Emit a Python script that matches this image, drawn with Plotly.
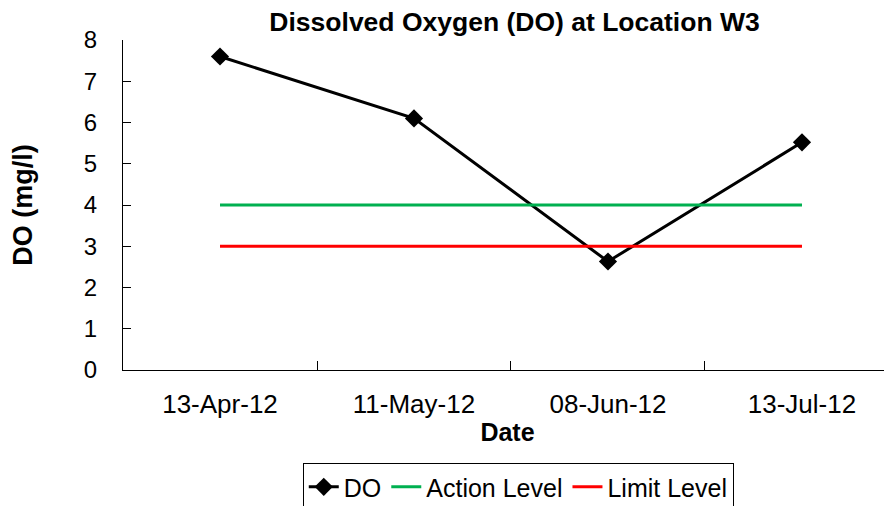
import plotly.graph_objects as go

dates = ["13-Apr-12", "11-May-12", "08-Jun-12", "13-Jul-12"]
do_values = [7.6, 6.1, 2.63, 5.52]
action_level = [4, 4, 4, 4]
limit_level = [3, 3, 3, 3]

FONT = "Liberation Sans, Arial, sans-serif"

fig = go.Figure()
fig.add_trace(go.Scatter(x=dates, y=do_values, name="DO", mode="lines+markers",
                         line=dict(color="black", width=3),
                         marker=dict(symbol="diamond", size=14, color="black")))
fig.add_trace(go.Scatter(x=dates, y=action_level, name="Action Level", mode="lines",
                         line=dict(color="#00B050", width=3)))
fig.add_trace(go.Scatter(x=dates, y=limit_level, name="Limit Level", mode="lines",
                         line=dict(color="#FF0000", width=3)))

# page body has an 8px margin; figure sized so it fills the window
fig.update_layout(
    width=884, height=498,
    margin=dict(l=115, r=0, t=32, b=136, autoexpand=False),
    paper_bgcolor="white", plot_bgcolor="white",
    font=dict(family=FONT, size=24, color="black"),
    title=dict(text="<b>Dissolved Oxygen (DO) at Location W3</b>", x=0.573, xanchor="center",
               y=0.972, yanchor="middle", font=dict(size=26.5)),
    showlegend=True,
    legend=dict(orientation="h", x=0.514, xanchor="center", y=-0.282, yanchor="top",
                bordercolor="black", borderwidth=1, font=dict(size=25),
                itemwidth=30, tracegroupgap=0),
)
fig.update_xaxes(type="category", range=[-0.5, 3.464], showline=True, linecolor="black",
                 linewidth=1, ticks="inside", tickson="boundaries", ticklen=9,
                 tickcolor="black", showgrid=False, zeroline=False,
                 ticklabelstandoff=11,
                 title=dict(text="<b>Date</b>", font=dict(size=25), standoff=5),
                 tickfont=dict(size=26))
fig.update_yaxes(range=[0, 8], dtick=1, showline=True, linecolor="black", linewidth=1,
                 ticks="inside", ticklen=8, tickcolor="black", showgrid=False,
                 zeroline=False, ticklabelstandoff=20,
                 title=dict(text="<b>DO (mg/l)</b>", font=dict(size=27), standoff=43),
                 tickfont=dict(size=24))

fig.write_html("out.html")
